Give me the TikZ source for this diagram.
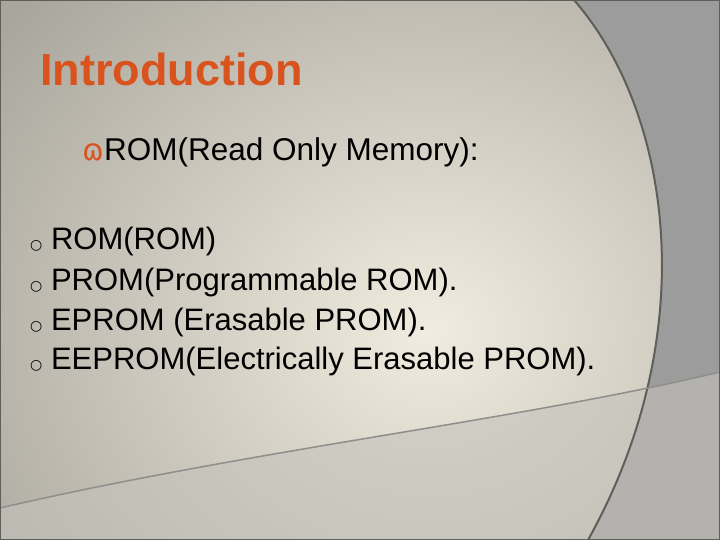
\documentclass[tikz,border=0pt]{standalone}
\usepackage{fontspec}
\setmainfont{Liberation Sans}
\newfontfamily\symfont{DejaVu Sans}
\definecolor{titleorange}{HTML}{D9531E}
\definecolor{cream}{HTML}{F1ECDF}
\definecolor{edgegray}{HTML}{A9A69D}
\definecolor{sidegray}{HTML}{9C9C9C}
\definecolor{lowgray}{HTML}{C4C2BB}
\definecolor{linegray}{HTML}{5E5E5A}
\begin{document}
\begin{tikzpicture}[x=1pt,y=-1pt,
        title/.style={anchor=west, inner sep=0pt, font=\fontsize{45}{50}\selectfont\bfseries, text=titleorange},
        topitem/.style={anchor=west, inner sep=0pt, font=\fontsize{31.5}{34}\selectfont},
        subitem/.style={anchor=west, inner sep=0pt, font=\fontsize{31}{36}\selectfont}
    ]
    \useasboundingbox (0,0) rectangle (720,540);

    % Background
    \shade[inner color=cream, outer color=edgegray, shading=radial] (-120,-150) rectangle (980,810);
    \fill[sidegray] (574,0) .. controls (670,110) and (705,330) .. (588,540) -- (720,540) -- (720,0) -- cycle;
    \fill[lowgray, opacity=0.6] (0,508) .. controls (250,450) and (520,420) .. (720,372) -- (720,540) -- (0,540) -- cycle;
    \draw[linegray, line width=2pt] (574,0) .. controls (670,110) and (705,330) .. (588,540);
    \draw[linegray!70, line width=1.5pt] (0,508) .. controls (250,450) and (520,420) .. (720,372);
    \draw[linegray, line width=1.5pt] (0,0) rectangle (720,540);

    % Title
    \node[title] (title) at (40,69) {Introduction};

    % Bullets
    \node[topitem] (rom) at (82,152) {\textcolor{titleorange}{\symfont\fontsize{30}{32}\selectfont ɷ}ROM(Read Only Memory):};
    \node[subitem] (r1) at (30,241) {{\symfont\fontsize{14}{16}\selectfont ○} ROM(ROM)};
    \node[subitem] (r2) at (30,282) {{\symfont\fontsize{14}{16}\selectfont ○} PROM(Programmable ROM).};
    \node[subitem] (r3) at (30,322) {{\symfont\fontsize{14}{16}\selectfont ○} EPROM (Erasable PROM).};
    \node[subitem] (r4) at (30,361) {{\symfont\fontsize{14}{16}\selectfont ○} EEPROM(Electrically Erasable PROM).};

\end{tikzpicture}
\end{document}
